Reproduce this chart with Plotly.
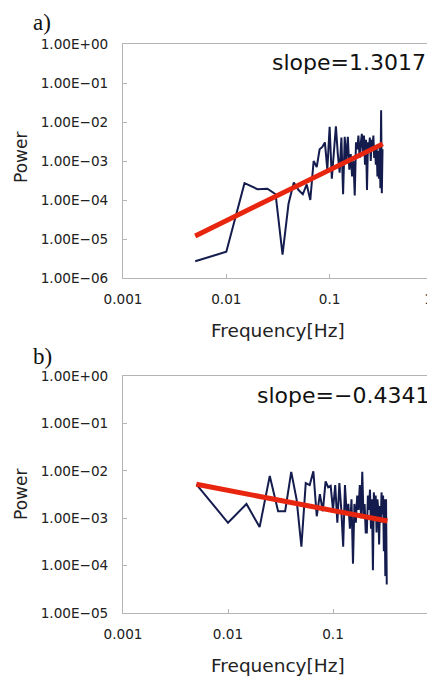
import plotly.graph_objects as go

# page body has an 8px margin; the figure is sized to fit the remaining window
OFF = 8
W, H = 435 - OFF, 676 - OFF

# ---------------- data ----------------
freq_a = [0.005, 0.01, 0.015, 0.02, 0.025, 0.03, 0.035, 0.04, 0.045, 0.05,
          0.055, 0.06, 0.065, 0.07, 0.075, 0.08, 0.085, 0.09, 0.095, 0.1,
          0.105, 0.11, 0.115, 0.12, 0.125, 0.13, 0.135, 0.14, 0.145, 0.15,
          0.155, 0.16, 0.165, 0.17, 0.175, 0.18, 0.185, 0.19, 0.195, 0.2,
          0.205, 0.21, 0.215, 0.22, 0.225, 0.23, 0.235, 0.24, 0.245, 0.25,
          0.255, 0.26, 0.265, 0.27, 0.275, 0.28, 0.285, 0.29, 0.295, 0.3,
          0.305, 0.31, 0.315, 0.32, 0.325]
power_a = [2.7e-6, 4.7e-6, 2.7e-4, 1.9e-4, 1.95e-4, 1.4e-4, 4e-6, 8e-5, 2.8e-4, 1.8e-4,
           1.4e-4, 2.5e-4, 1e-4, 1e-3, 7e-4, 2e-3, 2.3e-3, 3e-3, 6e-4, 7.5e-3,
           3.5e-4, 1.5e-3, 7.8e-3, 1.5e-3, 5e-4, 4e-3, 1.4e-4, 4.2e-3, 1e-3, 4.2e-3,
           6e-4, 1.5e-3, 4e-4, 1e-3, 1.3e-4, 3e-3, 2e-3, 4.5e-3, 1.2e-3, 2.8e-3,
           5e-3, 1.5e-3, 4.5e-3, 8e-4, 3.5e-3, 1.8e-4, 3e-3, 2e-3, 4e-3, 1e-3,
           3.5e-3, 2.2e-3, 4.5e-3, 1.2e-3, 2.5e-3, 8e-4, 2.5e-3, 4e-4, 1.8e-3, 3.5e-4,
           2.2e-3, 2e-4, 2e-2, 1.5e-4, 2e-3]
fit_freq_a = [0.005, 0.327]
fit_power_a = [1.2e-5, 2.75e-3]

freq_b = freq_a
power_b = [5.2e-3, 8e-4, 2e-3, 6.5e-4, 7.8e-3, 1.4e-3, 1.4e-3, 9.5e-3, 2.5e-3, 2.5e-4,
           5.5e-3, 5e-3, 9.8e-3, 1.1e-3, 3.2e-3, 1.4e-3, 6e-3, 4.5e-3, 4.8e-3, 1.5e-3,
           5e-3, 8e-4, 5.5e-3, 1.5e-3, 2.5e-4, 5e-3, 1.2e-3, 2e-3, 6e-4, 2.5e-3,
           1.1e-4, 2e-3, 8e-4, 3e-3, 1.5e-3, 5e-3, 1e-3, 9.5e-3, 1.2e-3, 2e-3,
           5e-4, 5e-4, 3e-3, 1.5e-3, 4e-3, 6e-4, 2.5e-3, 8e-5, 3.5e-3, 1e-3,
           3e-3, 5e-4, 2.5e-3, 1.5e-3, 2.8e-4, 1.8e-3, 8e-4, 3.5e-3, 1.2e-3, 3e-3,
           2e-4, 2.5e-3, 6e-5, 2.5e-3, 4e-5]
fit_freq_b = [0.005, 0.33]
fit_power_b = [5.2e-3, 8.7e-4]

x_tickvals = [0.001, 0.01, 0.1, 1]
# the last label sits at the window edge; padding keeps its glyph inside the view
x_ticktext = ["0.001", "0.01", "0.1", "1\u00a0\u00a0"]
y_tickvals_a = [1e0, 1e-1, 1e-2, 1e-3, 1e-4, 1e-5, 1e-6]
y_ticktext_a = ["1.00E+00", "1.00E−01", "1.00E−02", "1.00E−03", "1.00E−04", "1.00E−05", "1.00E−06"]
y_tickvals_b = [1e0, 1e-1, 1e-2, 1e-3, 1e-4, 1e-5]
y_ticktext_b = ["1.00E+00", "1.00E−01", "1.00E−02", "1.00E−03", "1.00E−04", "1.00E−05"]

panel_labels = ["a)", "b)"]
slope_texts = ["slope=1.3017", "slope=−0.4341"]
x_title = "Frequency[Hz]"
y_title = "Power"

# ---------------- styles ----------------
NAVY = "#141c4e"
RED = "#e8260f"
AXC = "#b4b4b4"
TXT = "#222222"
SANS = "DejaVu Sans, Liberation Sans, sans-serif"
SERIF = "Liberation Serif, Times New Roman, serif"


def px_x(p):
    return (p - OFF) / W


def px_y(p):
    return 1 - (p - OFF) / H


fig = go.Figure()

fig.add_trace(go.Scatter(x=freq_a, y=power_a, mode="lines",
                         line=dict(color=NAVY, width=2), xaxis="x", yaxis="y",
                         showlegend=False))
fig.add_trace(go.Scatter(x=fit_freq_a, y=fit_power_a, mode="lines",
                         line=dict(color=RED, width=5), xaxis="x", yaxis="y",
                         showlegend=False))
fig.add_trace(go.Scatter(x=freq_b, y=power_b, mode="lines",
                         line=dict(color=NAVY, width=2), xaxis="x2", yaxis="y2",
                         showlegend=False))
fig.add_trace(go.Scatter(x=fit_freq_b, y=fit_power_b, mode="lines",
                         line=dict(color=RED, width=5), xaxis="x2", yaxis="y2",
                         showlegend=False))

common_x = dict(type="log", showgrid=False, zeroline=False, showline=True,
                linecolor=AXC, linewidth=1, mirror=True, ticks="inside",
                ticklen=4, tickcolor=AXC, tickvals=x_tickvals, ticktext=x_ticktext,
                tickfont=dict(family=SANS, size=13.6, color=TXT), ticklabelstandoff=9,
                ticklabeloverflow="allow", automargin=False)
common_y = dict(type="log", showgrid=False, zeroline=False, showline=True,
                linecolor=AXC, linewidth=1, mirror=True, ticks="inside",
                ticklen=4, tickcolor=AXC,
                tickfont=dict(family=SANS, size=13.6, color=TXT), ticklabelstandoff=11,
                automargin=False)

# reference pixels: top panel x 123..433, y 44..278
x1_dom = [px_x(123), px_x(433)]
y1_dom = [px_y(278), px_y(44)]
# bottom panel: x 123..435 (continues past window edge), y 376..613
x2_dom = [px_x(123), 1.0]
y2_dom = [px_y(613), px_y(376)]
x2_right = -3 + (435 - 123) / 105.0

fig.update_layout(
    width=W, height=H,
    margin=dict(l=0, r=0, t=0, b=0, autoexpand=False),
    paper_bgcolor="white", plot_bgcolor="white",
    showlegend=False,
    xaxis=dict(domain=x1_dom, range=[-3, 0.0005], anchor="y", **common_x),
    yaxis=dict(domain=y1_dom, range=[-6, 0], anchor="x",
               tickvals=y_tickvals_a, ticktext=y_ticktext_a, **common_y),
    xaxis2=dict(domain=x2_dom, range=[-3, x2_right], anchor="y2", **common_x),
    yaxis2=dict(domain=y2_dom, range=[-5, 0], anchor="x2",
                tickvals=y_tickvals_b, ticktext=y_ticktext_b, **common_y),
)

annots = []
for lbl, yp in zip(panel_labels, [22, 356]):
    annots.append(dict(text=lbl, x=px_x(31), y=px_y(yp), xref="paper", yref="paper",
                       xanchor="left", yanchor="middle", showarrow=False,
                       font=dict(family=SERIF, size=23, color="#111111")))
for txt, xr, yp in zip(slope_texts, [428, 431], [62, 395]):
    annots.append(dict(text=txt, x=px_x(xr), y=px_y(yp), xref="paper", yref="paper",
                       xanchor="right", yanchor="middle", showarrow=False,
                       font=dict(family=SANS, size=22, color="#111111")))
for yp in [331, 665]:
    annots.append(dict(text=x_title, x=px_x(278), y=px_y(yp), xref="paper", yref="paper",
                       xanchor="center", yanchor="middle", showarrow=False,
                       font=dict(family=SANS, size=18.5, color=TXT)))
for yp in [158, 495]:
    annots.append(dict(text=y_title, x=px_x(21), y=px_y(yp), xref="paper", yref="paper",
                       xanchor="center", yanchor="middle", showarrow=False, textangle=-90,
                       font=dict(family=SANS, size=17, color=TXT)))
fig.update_layout(annotations=annots)

fig.write_html("out.html")
